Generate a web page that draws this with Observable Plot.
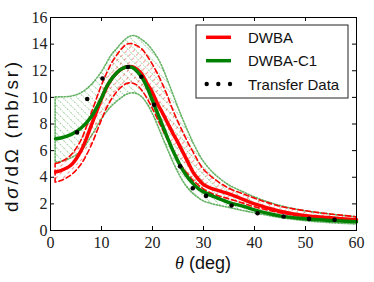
<!DOCTYPE html>
<html><head><meta charset="utf-8">
<script src="https://cdn.jsdelivr.net/npm/d3@7"></script>
<script src="https://cdn.jsdelivr.net/npm/@observablehq/plot@0.6"></script>
<style>body{margin:0;background:#fff}#chart{width:374px;height:282px}</style>
</head><body><div id="chart"></div>
<script>
// ---- data ----
const theta  = [1,2,4,6,8,10,11,12,13,14,15,16,17,18,19,20,21,22,23,24,25,26,27,28,29,30,32,35,38,40,45,50,55,60];
const dwba   = [4.4,4.5,4.9,6.0,7.9,9.9,10.75,11.4,11.85,12.15,12.3,12.3,12.1,11.7,11.0,10.35,9.5,8.8,8.05,7.3,6.6,5.85,5.1,4.35,3.85,3.45,3.1,2.75,2.3,2.0,1.45,1.1,0.95,0.8];
const dwbaLo = [3.6,3.7,4.1,4.9,6.3,8.2,9.1,9.8,10.35,10.75,11.0,11.05,10.9,10.5,9.9,9.2,8.4,7.6,6.8,6.0,5.3,4.7,4.2,3.75,3.4,3.1,2.7,2.35,2.0,1.75,1.3,1.0,0.85,0.72];
const dwbaHi = [5.0,5.1,5.6,6.7,8.7,10.8,11.7,12.5,13.1,13.6,13.95,14.0,13.85,13.6,13.1,12.5,11.8,11.0,10.1,9.1,8.2,7.4,6.6,5.9,5.2,4.6,3.9,3.15,2.7,2.4,1.8,1.45,1.2,1.0];
const c1     = [6.9,6.95,7.2,7.7,8.55,9.95,10.8,11.4,11.85,12.15,12.3,12.25,11.95,11.45,10.7,9.75,8.8,7.85,6.9,6.0,5.2,4.5,3.95,3.5,3.15,2.9,2.55,2.1,1.8,1.55,1.1,0.88,0.75,0.65];
const c1Lo   = [5.1,5.15,5.4,5.9,7.0,8.3,8.85,9.3,9.65,9.95,10.2,10.3,10.25,10.0,9.5,8.8,7.95,7.0,6.1,5.2,4.4,3.7,3.15,2.75,2.45,2.2,1.95,1.7,1.45,1.3,0.95,0.7,0.55,0.45];
const c1Hi   = [10.0,10.0,10.05,10.3,10.9,11.85,12.5,13.15,13.6,14.05,14.4,14.6,14.55,14.3,14.0,13.55,13.0,12.25,11.3,10.3,9.3,8.35,7.45,6.6,5.85,5.2,4.3,3.4,2.85,2.5,1.85,1.45,1.2,1.0];
const dataTheta = [5.2,7.2,10.2,15.2,17.8,20.3,25.4,27.9,30.5,35.5,40.6,45.7,50.7,55.7];
const dataXs    = [7.37,9.88,11.42,12.28,11.55,9.45,4.82,3.17,2.6,1.88,1.3,1.05,0.87,0.8];
const xTicks = [0,10,20,30,40,50,60];
const yTicks = [0,2,4,6,8,10,12,14,16];
const seriesNames = ["DWBA","DWBA-C1","Transfer Data"];

// ---- tables ----
const grid = theta.map((t,i)=>({t, dwba:dwba[i], dwbaLo:dwbaLo[i], dwbaHi:dwbaHi[i], c1:c1[i], c1Lo:c1Lo[i], c1Hi:c1Hi[i]}));
const pts = dataTheta.map((t,i)=>({t, v:dataXs[i]}));

const W=374, H=282, mL=50, mR=18, mT=17, mB=52;
const pw=W-mL-mR, ph=H-mT-mB;
const RED="#ff0000", GREEN="#008000";
const cv="catmull-rom";

const plot = Plot.plot({
  width:W, height:H, marginLeft:mL, marginRight:mR, marginTop:mT, marginBottom:mB,
  style:{fontFamily:"'Liberation Serif', serif", fontSize:"16px", color:"#222", background:"#fff", overflow:"visible"},
  x:{domain:[0,60]},
  y:{domain:[0,16]},
  marks:[
    Plot.areaY(grid,{x:"t", y1:"c1Lo", y2:"c1Hi", curve:cv, fill:"url(#hatchG)", stroke:GREEN, strokeOpacity:0.6, strokeWidth:1.6, strokeDasharray:"1.3,1.7"}),
    Plot.areaY(grid,{x:"t", y1:"dwbaLo", y2:"dwbaHi", curve:cv, fill:"url(#hatchR)", stroke:RED, strokeWidth:1.6, strokeDasharray:"5,3"}),
    Plot.line(grid,{x:"t", y:"dwba", curve:cv, stroke:RED, strokeWidth:3.5}),
    Plot.line(grid,{x:"t", y:"c1", curve:cv, stroke:GREEN, strokeWidth:3.5}),
    Plot.dot(pts,{x:"t", y:"v", r:2.3, fill:"black", stroke:null}),
    Plot.frame({stroke:"black", strokeWidth:1}),
    Plot.tickX(xTicks,{x:d=>d, insetTop:ph-4, stroke:"black"}),
    Plot.tickX(xTicks,{x:d=>d, insetBottom:ph-4, stroke:"black"}),
    Plot.tickY(yTicks,{y:d=>d, insetRight:pw-4, stroke:"black"}),
    Plot.tickY(yTicks,{y:d=>d, insetLeft:pw-4, stroke:"black"}),
    Plot.axisX({ticks:xTicks, tickSize:0, tickPadding:6, label:null, fontSize:16}),
    Plot.axisY({ticks:yTicks, tickSize:0, tickPadding:3, label:null, fontSize:16})
  ]
});

const svg = d3.select(plot);
const defs = svg.insert("defs",":first-child");
const pg = defs.append("pattern").attr("id","hatchG").attr("patternUnits","userSpaceOnUse")
  .attr("width",5).attr("height",5).attr("patternTransform","rotate(-45)");
pg.append("line").attr("x1",0.5).attr("y1",0).attr("x2",0.5).attr("y2",5)
  .attr("stroke",GREEN).attr("stroke-opacity",0.5).attr("stroke-width",0.8).attr("stroke-dasharray","0.9,1.1");
const pr = defs.append("pattern").attr("id","hatchR").attr("patternUnits","userSpaceOnUse")
  .attr("width",5).attr("height",6).attr("patternTransform","rotate(45)");
pr.append("line").attr("x1",0.5).attr("y1",0).attr("x2",0.5).attr("y2",6)
  .attr("stroke",RED).attr("stroke-opacity",0.5).attr("stroke-width",0.8).attr("stroke-dasharray","3,3");

// axis labels
const sans = "'Liberation Sans', Arial, sans-serif";
const xl = svg.append("text").attr("x", mL+pw/2).attr("y", 268.5).attr("text-anchor","middle")
  .style("font-family",sans).style("font-size","18px").attr("fill","#111");
xl.append("tspan").text("θ").style("font-family","'Liberation Serif', serif").style("font-style","italic");
xl.append("tspan").text(" (deg)");
const yl = svg.append("text").attr("transform","translate(18,137) rotate(-90)").attr("text-anchor","middle")
  .style("font-family",sans).style("font-size","19px").attr("fill","#111")
  .attr("textLength",150).attr("lengthAdjust","spacing");
yl.append("tspan").text("d");
yl.append("tspan").text("σ").style("font-style","italic");
yl.append("tspan").text("/dΩ");
yl.append("tspan").text(" (mb/sr)");

// legend
const lg = svg.append("g").attr("text-anchor","start");
lg.append("rect").attr("x",196).attr("y",25).attr("width",152).attr("height",73)
  .attr("fill","#fff").attr("stroke","#222").attr("stroke-width",1);
const rows=[37.3,60.7,84];
lg.append("line").attr("x1",206).attr("x2",231).attr("y1",rows[0]).attr("y2",rows[0]).attr("stroke",RED).attr("stroke-width",3.5);
lg.append("line").attr("x1",206).attr("x2",231).attr("y1",rows[1]).attr("y2",rows[1]).attr("stroke",GREEN).attr("stroke-width",3.5);
[206.7,218.3,230].forEach(cx=>lg.append("circle").attr("cx",cx).attr("cy",rows[2]).attr("r",2.2).attr("fill","black"));
seriesNames.forEach((n,i)=>lg.append("text").attr("x",248).attr("y",rows[i]+5.5).attr("text-anchor","start").text(n)
  .style("font-family",sans).style("font-size","15px").attr("fill","#111"));

document.getElementById("chart").appendChild(plot);
</script></body></html>
